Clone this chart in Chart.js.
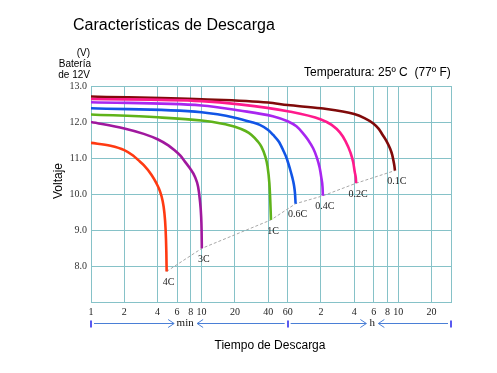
<!DOCTYPE html>
<html>
<head>
<meta charset="utf-8">
<script src="https://cdn.jsdelivr.net/npm/chart.js@4.4.0/dist/chart.umd.min.js"></script>
<style>
  body { margin: 0; background: #fff; }
  canvas { display: block; }
</style>
</head>
<body>
<canvas id="myChart" width="497" height="373"></canvas>
<script>
// Discharge rates
const rates = ["4C", "3C", "1C", "0.6C", "0.4C", "0.2C", "0.1C"];

// time in minutes / voltage in V
const t4C = [1, 1.5, 2, 2.4, 2.68, 3.0, 3.53, 3.9, 4.2, 4.45, 4.6, 4.72, 4.8, 4.83];
const v4C = [11.42, 11.34, 11.22, 11.07, 10.94, 10.8, 10.53, 10.3, 10.08, 9.8, 9.5, 9.05, 8.4, 7.85];
const t3C = [1, 2, 3, 4, 5, 5.66, 6.4, 7.07, 7.9, 8.7, 9.3, 9.65, 9.9, 10.0, 10.05];
const v3C = [12.0, 11.82, 11.67, 11.52, 11.35, 11.22, 11.07, 10.9, 10.7, 10.48, 10.2, 9.83, 9.4, 9.0, 8.49];
const t1C = [1, 4, 10, 15, 20, 25, 28.3, 32, 34.8, 37.5, 39.5, 41, 41.8, 42.4];
const v1C = [12.21, 12.13, 12.04, 11.96, 11.87, 11.75, 11.64, 11.47, 11.31, 11.06, 10.76, 10.3, 9.8, 9.28];
const t06C = [1, 10, 20, 28, 33.6, 40, 44.4, 50, 54.6, 59, 62.8, 66, 68.4, 70, 70.8];
const v06C = [12.38, 12.27, 12.12, 12.0, 11.92, 11.78, 11.64, 11.45, 11.22, 10.98, 10.71, 10.47, 10.25, 10.0, 9.73];
const t04C = [1, 10, 22, 44, 60, 72, 82, 92, 102, 110, 117, 121, 124, 125];
const v04C = [12.55, 12.46, 12.32, 12.16, 12.02, 11.88, 11.7, 11.5, 11.27, 11.02, 10.72, 10.45, 10.2, 9.95];
const t02C = [1, 10, 22, 60, 120, 150, 178, 200, 222, 235, 243, 248, 250];
const v02C = [12.64, 12.58, 12.49, 12.3, 12.07, 11.92, 11.71, 11.47, 11.15, 10.88, 10.6, 10.45, 10.3];
const t01C = [1, 10, 40, 60, 120, 240, 300, 357, 400, 434, 470, 505, 530, 545, 555, 560];
const v01C = [12.71, 12.63, 12.54, 12.47, 12.38, 12.22, 12.1, 11.96, 11.81, 11.64, 11.47, 11.27, 11.08, 10.9, 10.76, 10.65];

const allTimes = [t4C, t3C, t1C, t06C, t04C, t02C, t01C];
const allVolts = [v4C, v3C, v1C, v06C, v04C, v02C, v01C];

// x axis ticks (minutes) and what is printed under them
const tickValues = [1, 2, 4, 6, 8, 10, 20, 40, 60, 120, 240, 360, 480, 600, 1200, 1800];
const tickLabels = ["1", "2", "4", "6", "8", "10", "20", "40", "60", "2", "4", "6", "8", "10", "20", ""];

const colors = ["#ff3a12", "#a0189e", "#5fb31a", "#1155e6", "#a826f0", "#ff1a8c", "#800a0a"];
const gridColor = "#86c2c8";
const SERIF = "'Liberation Serif', 'DejaVu Serif', serif";
const SANS = "'Liberation Sans', Arial, sans-serif";

function toPoints(ts, vs) {
  return ts.map((t, i) => ({ x: t, y: vs[i] }));
}

var datasets = allTimes.map((ts, i) => ({
  label: rates[i],
  data: toPoints(ts, allVolts[i]),
  borderColor: colors[i],
  borderWidth: 2.6,
  pointRadius: 0,
  cubicInterpolationMode: "monotone",
  fill: false,
}));

// dashed line through the end of each curve
var endPoints = allTimes.map((ts, i) => ({
  x: ts[ts.length - 1],
  y: allVolts[i][allVolts[i].length - 1],
}));
datasets.push({
  label: "end",
  data: endPoints,
  borderColor: "#a8a8a8",
  borderWidth: 1,
  borderDash: [3, 2],
  pointRadius: 0,
  fill: false,
});

const decoPlugin = {
  id: "deco",
  afterDraw(chart) {
    const ctx = chart.ctx;
    const xs = chart.scales.x;
    ctx.save();

    // curve labels
    ctx.fillStyle = "#222";
    ctx.font = "10px " + SERIF;
    ctx.textAlign = "center";
    ctx.textBaseline = "middle";
    for (let i = 0; i < rates.length; i++) {
      const pts = chart.getDatasetMeta(i).data;
      const p = pts[pts.length - 1];
      ctx.fillText(rates[i], p.x + 2, p.y + 11);
    }

    // titles
    ctx.fillStyle = "#000";
    ctx.textAlign = "left";
    ctx.font = "16px " + SANS;
    ctx.fillText("Características de Descarga", 73, 26);
    ctx.font = "12px " + SANS;
    ctx.fillText("Temperatura: 25º C  (77º F)", 304, 73);

    ctx.textAlign = "right";
    ctx.font = "10px " + SANS;
    ctx.fillText("(V)", 90, 53);
    ctx.fillText("Batería", 91, 64);
    ctx.fillText("de 12V", 90, 75);

    ctx.textAlign = "center";
    ctx.font = "12px " + SANS;
    ctx.fillText("Tiempo de Descarga", 270, 346);
    ctx.save();
    ctx.translate(59, 181);
    ctx.rotate(-Math.PI / 2);
    ctx.fillText("Voltaje", 0, 0);
    ctx.restore();

    // min / h arrows
    const y = 323.5;
    const xa = xs.getPixelForValue(1);
    const xb = xs.getPixelForValue(60);
    const xc = xs.getPixelForValue(1800);
    const xMin = xs.getPixelForValue(7.1);
    const xH = xs.getPixelForValue(350);
    ctx.strokeStyle = "#4a7fd6";
    ctx.fillStyle = "#5a5af0";
    ctx.lineWidth = 1;
    [xa, xb, xc].forEach((x) => ctx.fillRect(Math.round(x) - 1, y - 3, 2, 7));
    function arrowTo(x0, x1) {
      ctx.beginPath();
      ctx.moveTo(x0, y);
      ctx.lineTo(x1, y);
      const d = x1 > x0 ? -1 : 1;
      ctx.moveTo(x1 + d * 6, y - 4);
      ctx.lineTo(x1, y);
      ctx.lineTo(x1 + d * 6, y + 4);
      ctx.stroke();
    }
    arrowTo(xa + 3, xMin - 11);
    arrowTo(xb - 3, xMin + 12);
    arrowTo(xb + 3, xH - 6);
    arrowTo(xc - 3, xH + 6);
    ctx.fillStyle = "#111";
    ctx.font = "11px " + SERIF;
    ctx.fillText("min", xMin, y);
    ctx.fillText("h", xH, y);

    ctx.restore();
  },
};

new Chart("myChart", {
  type: "line",
  data: { datasets: datasets },
  plugins: [decoPlugin],
  options: {
    responsive: false,
    animation: false,
    layout: { padding: { top: 86, right: 46, left: 0, bottom: 0 } },
    plugins: { legend: { display: false }, tooltip: { enabled: false } },
    scales: {
      x: {
        type: "logarithmic",
        min: 1,
        max: 1800,
        afterFit: (s) => { s.height = 71; },
        afterBuildTicks: (s) => { s.ticks = tickValues.map((v) => ({ value: v })); },
        grid: { color: gridColor, drawTicks: false },
        border: { color: gridColor },
        ticks: {
          autoSkip: false,
          maxRotation: 0,
          padding: 4,
          color: "#222",
          font: { family: SERIF, size: 10 },
          callback: (v, i) => tickLabels[i],
        },
      },
      y: {
        min: 7,
        max: 13,
        afterFit: (s) => { s.width = 91; },
        grid: { color: gridColor, drawTicks: false },
        border: { color: gridColor },
        ticks: {
          stepSize: 1,
          padding: 4,
          color: "#333",
          font: { family: SERIF, size: 10 },
          callback: (v) => (v === 7 ? "" : v.toFixed(1)),
        },
      },
    },
  },
});
</script>
</body>
</html>
